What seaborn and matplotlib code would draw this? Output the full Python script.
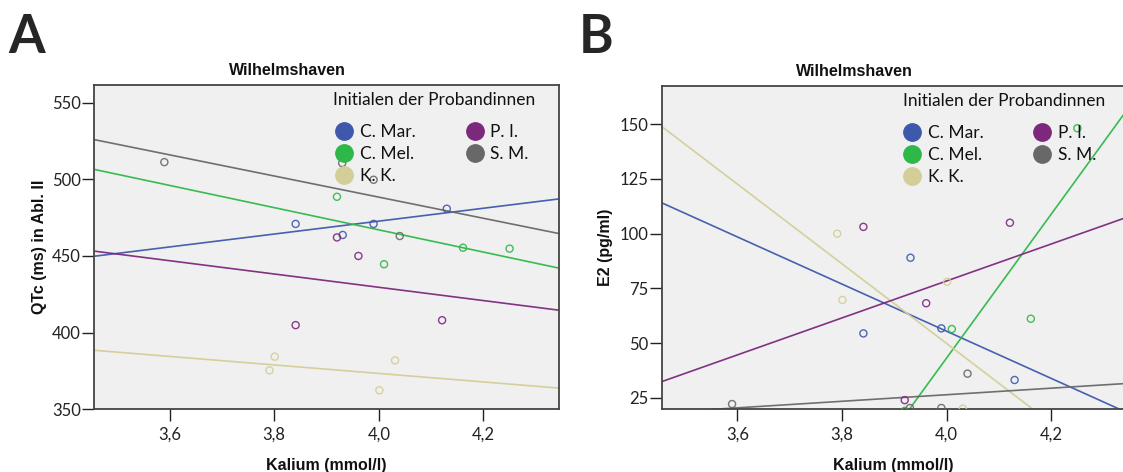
import numpy as np
import pandas as pd
import matplotlib
matplotlib.use("Agg")
import matplotlib.pyplot as plt
from matplotlib.lines import Line2D
import seaborn as sns

# ---------------- data ----------------
participants = ["C. Mar.", "C. Mel.", "K. K.", "P. I.", "S. M."]
colors = ["#3E58AC", "#2EB848", "#D3CE97", "#7C287D", "#686868"]

kalium_cmar = [3.841, 3.931, 3.990, 4.130]
kalium_cmel = [3.920, 4.010, 4.161, 4.250]
kalium_kk = [3.791, 3.801, 4.001, 4.031]
kalium_pi = [3.841, 3.920, 3.961, 4.121]
kalium_sm = [3.590, 3.930, 3.990, 4.040]

qtc_cmar = [470.9, 463.7, 470.9, 480.8]
qtc_cmel = [488.6, 444.6, 455.4, 454.8]
qtc_kk = [375.4, 384.3, 362.4, 381.9]
qtc_pi = [404.9, 462.1, 450.0, 408.1]
qtc_sm = [511.2, 510.6, 499.7, 463.0]

e2_cmar = [54.4, 89.0, 56.7, 33.1]
e2_cmel = [19.0, 56.4, 61.1, 148.2]
e2_kk = [100.0, 69.7, 78.0, 20.0]
e2_pi = [103.1, 23.9, 68.2, 105.0]
e2_sm = [22.1, 20.3, 20.3, 36.0]

x_ticks = [3.6, 3.8, 4.0, 4.2]
x_tick_labels = ["3,6", "3,8", "4,0", "4,2"]
qtc_ticks = [350, 400, 450, 500, 550]
e2_ticks = [25, 50, 75, 100, 125, 150]

kalium_all = [kalium_cmar, kalium_cmel, kalium_kk, kalium_pi, kalium_sm]
qtc_all = [qtc_cmar, qtc_cmel, qtc_kk, qtc_pi, qtc_sm]
e2_all = [e2_cmar, e2_cmel, e2_kk, e2_pi, e2_sm]

# ---------------- style ----------------
sns.set_theme(style="white")
plt.rcParams['font.family'] = ['Lato', 'DejaVu Sans']

W, H = 1123, 472
fig = plt.figure(figsize=(W / 100, H / 100), dpi=100)
fig.patch.set_facecolor("white")

axA = fig.add_axes([94 / W, (H - 409.3) / H, 465 / W, (409.3 - 85) / H])
axB = fig.add_axes([661.7 / W, (H - 409.3) / H, 463.3 / W, (409.3 - 86) / H])

bold_font = ['Liberation Sans', 'DejaVu Sans']


def draw_panel(ax, yvals, xlim, ylim, yticks, ylabel, leg_x, title_x,
               ylabelpad):
    ax.set_facecolor("#F0F0F0")
    ax.set_xlim(*xlim)
    ax.set_ylim(*ylim)
    for xs, ys, c in zip(kalium_all, yvals, colors):
        sns.regplot(x=np.array(xs), y=np.array(ys), ax=ax, ci=None,
                    truncate=False, color=c, marker='o',
                    scatter_kws=dict(s=26, facecolors='none', linewidths=1.0,
                                     alpha=0.9, zorder=3),
                    line_kws=dict(lw=1.2, alpha=0.95, zorder=2))
    ax.set_xlim(*xlim)
    ax.set_ylim(*ylim)
    ax.set_xticks(x_ticks)
    ax.set_xticklabels(x_tick_labels)
    ax.set_yticks(yticks)
    ax.set_yticklabels([str(t) for t in yticks])
    ax.tick_params(axis='both', direction='out', length=8.5, width=1.0,
                   color='#222222', labelsize=12, labelcolor='#222222',
                   bottom=True, left=True)
    ax.tick_params(axis='x', pad=4)
    ax.tick_params(axis='y', pad=1)
    for sp in ax.spines.values():
        sp.set_color('#444444')
        sp.set_linewidth(1.3)
        sp.set_visible(True)
    ax.set_xlabel("Kalium (mmol/l)", fontsize=11.5, fontweight='bold',
                  family=bold_font, labelpad=11, color='#111111')
    ax.set_ylabel(ylabel, fontsize=11.5, fontweight='bold',
                  family=bold_font, labelpad=ylabelpad, color='#111111')
    ax.set_title("Wilhelmshaven", x=0.416, fontsize=11.5, fontweight='bold',
                 family=bold_font, pad=7, color='#111111')
    # legend title
    ax.text(title_x, 1 - 15 / 324, "Initialen der Probandinnen",
            transform=ax.transAxes, ha='left', va='center', fontsize=12.5,
            color='#111111', zorder=5)
    handles = [Line2D([], [], marker='o', ls='none', markersize=12.5,
                      markerfacecolor=c, markeredgecolor=c) for c in colors]
    leg = ax.legend(handles, participants,
                    loc='upper left', bbox_to_anchor=(leg_x, 0.905), ncol=2,
                    frameon=False, borderpad=0, fontsize=12.5,
                    handlelength=1.2, handletextpad=0.3,
                    columnspacing=2.8, labelspacing=0.34)
    for t in leg.get_texts():
        t.set_color('#111111')


draw_panel(axA, qtc_all, (3.4555, 4.3445), (350, 561.5), qtc_ticks,
           "QTc (ms) in Abl. II", 0.497, 0.514, 3.5)
draw_panel(axB, e2_all, (3.4555, 4.341), (19.7, 167.5), e2_ticks,
           "E2 (pg/ml)", 0.499, 0.520, 5)

fig.text(8 / W, 1 - 13 / H, "A", ha='left', va='top', fontsize=38,
         fontweight='bold', family=['Lato', 'DejaVu Sans'])
fig.text(579 / W, 1 - 13 / H, "B", ha='left', va='top', fontsize=38,
         fontweight='bold', family=['Lato', 'DejaVu Sans'])

fig.savefig("out.png", dpi=100)
